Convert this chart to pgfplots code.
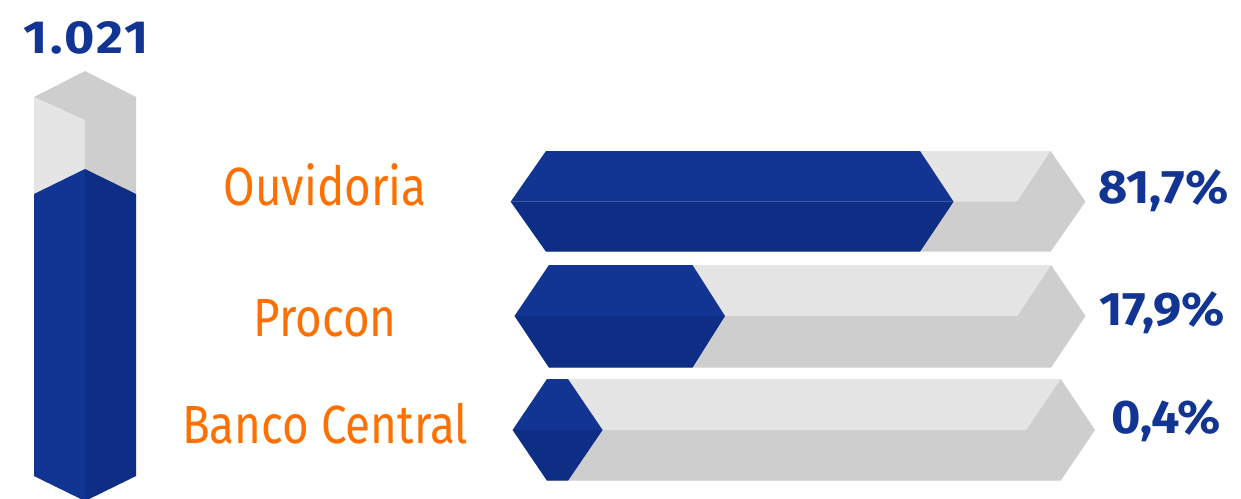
\documentclass[border=0pt]{standalone}
\usepackage{pgfplots}
\pgfplotsset{compat=1.18}
\usepackage{fontspec}
\setmainfont{Fira Sans}
\newfontfamily\labfont[FakeStretch=0.85]{Fira Sans}
\newfontfamily\numfont[FakeStretch=1.07]{Fira Sans}
\newfontfamily\totfont[FakeStretch=1.12, LetterSpace=5]{Fira Sans}
\definecolor{blueA}{RGB}{18,53,148}
\definecolor{blueB}{RGB}{14,46,134}
\definecolor{grayA}{RGB}{229,229,229}
\definecolor{grayB}{RGB}{206,206,206}
\definecolor{orng}{RGB}{255,112,0}
\begin{document}
\begin{tikzpicture}
\begin{axis}[width=12.41cm, height=4.98cm, scale only axis,
  xmin=0, xmax=1241, ymin=0, ymax=498, hide axis, clip=true]
% ---- vertical total bar (1.021)
\addplot[fill=grayB, draw=none] coordinates {(34,401)(85,427)(136,401)(136,22)(85,-3)(34,22)} -- cycle;
\addplot[fill=grayA, draw=none] coordinates {(34,401)(85,378)(85,22)(34,22)} -- cycle;
\addplot[fill=blueA, draw=none] coordinates {(34,304)(85,329)(85,-3)(34,22)} -- cycle;
\addplot[fill=blueB, draw=none] coordinates {(85,329)(136,304)(136,22)(85,-3)} -- cycle;
% ---- Ouvidoria 81,7%
\addplot[fill=grayB, draw=none] coordinates {(510.7,296.3)(546,347)(1050.6,347)(1085.5,296.3)(1050.6,246.3)(546,246.3)} -- cycle;
\addplot[fill=grayA, draw=none] coordinates {(546,347)(1050.6,347)(1016.8,296.3)(510.7,296.3)} -- cycle;
\addplot[fill=blueA, draw=none] coordinates {(510.7,296.3)(546,347)(920,347)(953.6,296.3)} -- cycle;
\addplot[fill=blueB, draw=none] coordinates {(510.7,296.3)(546,246.3)(920,246.3)(953.6,296.3)} -- cycle;
% ---- Procon 17,9%
\addplot[fill=grayB, draw=none] coordinates {(514.5,182)(549,233)(1051,233)(1085.5,182)(1051,130.3)(549,130.3)} -- cycle;
\addplot[fill=grayA, draw=none] coordinates {(549,233)(1051,233)(1017.4,182)(514.5,182)} -- cycle;
\addplot[fill=blueA, draw=none] coordinates {(514.5,182)(549,233)(692.5,233)(725,182)} -- cycle;
\addplot[fill=blueB, draw=none] coordinates {(514.5,182)(549,130.3)(692.5,130.3)(725,182)} -- cycle;
% ---- Banco Central 0,4%
\addplot[fill=grayB, draw=none] coordinates {(512.6,68)(547,119)(1060.7,119)(1095,68)(1060.7,17.3)(547,17.3)} -- cycle;
\addplot[fill=grayA, draw=none] coordinates {(547,119)(1060.7,119)(1026,68)(512.6,68)} -- cycle;
\addplot[fill=blueA, draw=none] coordinates {(512.6,68)(547,119)(568,119)(602.6,68)} -- cycle;
\addplot[fill=blueB, draw=none] coordinates {(512.6,68)(547,17.3)(568,17.3)(602.6,68)} -- cycle;
% ---- labels
\node[anchor=base, text=blueA, font=\totfont\bfseries\fontsize{13.2}{16}\selectfont] at (axis cs:86,445) {1.021};
\node[anchor=base, text=orng, font=\labfont\fontsize{15.3}{18}\selectfont] at (axis cs:325,293) {Ouvidoria};
\node[anchor=base, text=orng, font=\labfont\fontsize{15.3}{18}\selectfont] at (axis cs:325,162) {Procon};
\node[anchor=base, text=orng, font=\labfont\fontsize{15.3}{18}\selectfont] at (axis cs:325,55) {Banco Central};
\node[anchor=base, text=blueA, font=\numfont\bfseries\fontsize{13.4}{16}\selectfont] at (axis cs:1164,295) {81,7\%};
\node[anchor=base, text=blueA, font=\numfont\bfseries\fontsize{13.4}{16}\selectfont] at (axis cs:1162,173) {17,9\%};
\node[anchor=base, text=blueA, font=\numfont\bfseries\fontsize{13.4}{16}\selectfont] at (axis cs:1166,65) {0,4\%};
\end{axis}
\pgfresetboundingbox
\useasboundingbox (current axis.south west) rectangle (current axis.north east);
\end{tikzpicture}
\end{document}
